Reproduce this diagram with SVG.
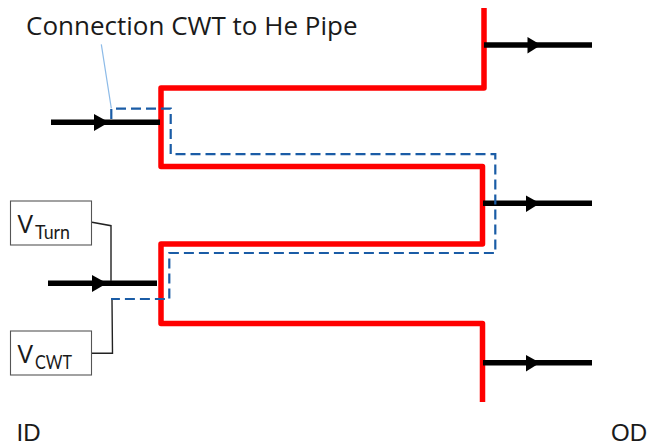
<svg xmlns="http://www.w3.org/2000/svg" width="648" height="446" viewBox="0 0 648 446">
<style>
text{font-family:"Open Sans","Noto Sans","Liberation Sans",sans-serif;fill:#1a1a1a}
.sub{font-family:Lato,"Liberation Sans",sans-serif;font-size:18.500px}
.edge{font-family:"Liberation Sans",Arial,sans-serif;font-size:24px}
.red{fill:none;stroke:#ff0000;stroke-width:5.5;stroke-linejoin:round}
.flow{stroke:#000;stroke-width:5.5;fill:none}
.dash{fill:none;stroke:#1a5ca6;stroke-width:2.2;stroke-dasharray:10 5}
.lead{fill:none;stroke:#222;stroke-width:1.4}
.box{fill:#fff;stroke:#555;stroke-width:1.1}
.head{fill:#000}
</style>
<rect width="648" height="446" fill="#fff"/>
<g id="connectors">
<path class="red" d="M484 8V88H161V166.5H482.5V244H161V323.5H482.5V402"/>
<path class="flow" d="M51 122.3H160"/><path class="head" d="M94 114L109 122.3L94 131Z"/>
<path class="flow" d="M48 283.3H157"/><path class="head" d="M92 275L107 283.3L92 292Z"/>
<path class="flow" d="M484 45H592"/><path class="head" d="M527.500 37L541 45L527.500 53.500Z"/>
<path class="flow" d="M483 203.300H592"/><path class="head" d="M526 195.500L540 203.300L526 212Z"/>
<path class="flow" d="M483 362.800H592"/><path class="head" d="M526 355L540 362.800L526 371.500Z"/>
<path class="dash" d="M111.300 119V108.700H170.700V154.200H495.300V253H169.300V299H111"/>
<path fill="none" stroke="#8dbbe8" stroke-width="1.2" d="M101.300 44.300L111.300 108.300"/>
<path class="lead" d="M92 222.300L111 225.700V281"/>
<path class="lead" d="M92 353.300H112.500L112 300"/>
</g>
<g id="label-connection"><text x="26" y="35" font-size="26">Connection CWT to He Pipe</text></g>
<g id="v-turn"><rect class="box" x="10.500" y="201" width="81" height="44"/><text x="17.500" y="233" font-size="26">V</text><text class="sub" x="35" y="239" textLength="35" lengthAdjust="spacingAndGlyphs">Turn</text></g>
<g id="v-cwt"><rect class="box" x="10.500" y="331" width="81" height="44"/><text x="17.500" y="363" font-size="26">V</text><text class="sub" x="35" y="369" textLength="37" lengthAdjust="spacingAndGlyphs">CWT</text></g>
<g id="label-id"><text class="edge" x="16.500" y="440.500">ID</text></g>
<g id="label-od"><text class="edge" x="611" y="440.500">OD</text></g>
</svg>
